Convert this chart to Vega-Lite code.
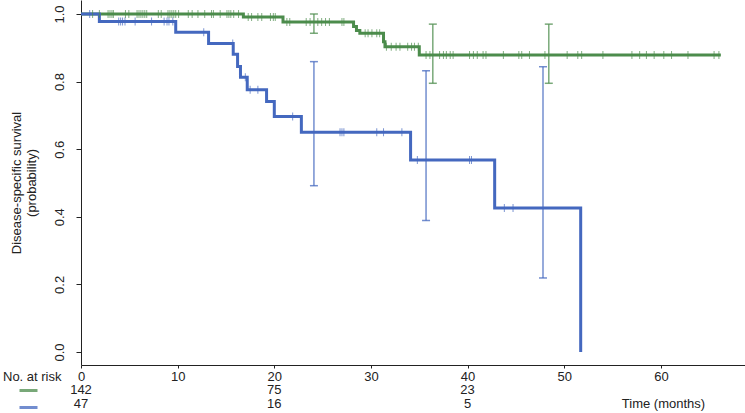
{
  "$schema": "https://vega.github.io/schema/vega-lite/v6.json",
  "width": 664,
  "height": 365,
  "autosize": {"type": "none"},
  "padding": {"left": 81, "top": 0, "right": 0, "bottom": 48},
  "background": "white",
  "config": {
    "font": "Liberation Sans",
    "view": {"stroke": null},
    "axis": {"grid": false, "labelFontSize": 13, "labelColor": "#222222", "titleFontSize": 13, "titleFontWeight": "normal", "titleColor": "#222222", "domainColor": "#222222", "tickColor": "#222222"}
  },
  "datasets": {
    "curve": [
      {"g": "Group A", "t": 0, "s": 1},
      {"g": "Group A", "t": 16.8, "s": 0.991},
      {"g": "Group A", "t": 20.9, "s": 0.976},
      {"g": "Group A", "t": 28.2, "s": 0.963},
      {"g": "Group A", "t": 28.5, "s": 0.951},
      {"g": "Group A", "t": 28.85, "s": 0.943},
      {"g": "Group A", "t": 31.3, "s": 0.918},
      {"g": "Group A", "t": 31.45, "s": 0.903},
      {"g": "Group A", "t": 35.0, "s": 0.879},
      {"g": "Group A", "t": 66.2, "s": 0.879},
      {"g": "Group B", "t": 0, "s": 1},
      {"g": "Group B", "t": 1.9, "s": 0.978},
      {"g": "Group B", "t": 9.8, "s": 0.946},
      {"g": "Group B", "t": 13.2, "s": 0.913},
      {"g": "Group B", "t": 15.75, "s": 0.881},
      {"g": "Group B", "t": 16.2, "s": 0.845},
      {"g": "Group B", "t": 16.5, "s": 0.813},
      {"g": "Group B", "t": 17.2, "s": 0.776},
      {"g": "Group B", "t": 19.2, "s": 0.741},
      {"g": "Group B", "t": 20.0, "s": 0.697},
      {"g": "Group B", "t": 22.8, "s": 0.65},
      {"g": "Group B", "t": 34.1, "s": 0.568},
      {"g": "Group B", "t": 42.8, "s": 0.426},
      {"g": "Group B", "t": 51.7, "s": 0}
    ],
    "censor": [
      {"g": "Group A", "t": 1.2, "s": 1}, {"g": "Group A", "t": 1.9, "s": 1}, {"g": "Group A", "t": 2.8, "s": 1}, {"g": "Group A", "t": 3.0, "s": 1},
      {"g": "Group A", "t": 3.2, "s": 1}, {"g": "Group A", "t": 3.35, "s": 1}, {"g": "Group A", "t": 4.6, "s": 1}, {"g": "Group A", "t": 4.95, "s": 1},
      {"g": "Group A", "t": 5.8, "s": 1}, {"g": "Group A", "t": 6.0, "s": 1}, {"g": "Group A", "t": 6.2, "s": 1}, {"g": "Group A", "t": 6.4, "s": 1},
      {"g": "Group A", "t": 6.6, "s": 1}, {"g": "Group A", "t": 6.8, "s": 1}, {"g": "Group A", "t": 8.0, "s": 1}, {"g": "Group A", "t": 8.3, "s": 1},
      {"g": "Group A", "t": 9.0, "s": 1}, {"g": "Group A", "t": 9.2, "s": 1}, {"g": "Group A", "t": 9.4, "s": 1}, {"g": "Group A", "t": 9.6, "s": 1},
      {"g": "Group A", "t": 9.8, "s": 1}, {"g": "Group A", "t": 10.1, "s": 1}, {"g": "Group A", "t": 11.1, "s": 1}, {"g": "Group A", "t": 11.5, "s": 1},
      {"g": "Group A", "t": 12.1, "s": 1}, {"g": "Group A", "t": 12.8, "s": 1}, {"g": "Group A", "t": 13.5, "s": 1}, {"g": "Group A", "t": 13.7, "s": 1},
      {"g": "Group A", "t": 14.4, "s": 1}, {"g": "Group A", "t": 15.1, "s": 1}, {"g": "Group A", "t": 15.3, "s": 1}, {"g": "Group A", "t": 15.5, "s": 1},
      {"g": "Group A", "t": 15.8, "s": 1}, {"g": "Group A", "t": 16.3, "s": 1},
      {"g": "Group A", "t": 17.3, "s": 0.991}, {"g": "Group A", "t": 17.65, "s": 0.991}, {"g": "Group A", "t": 18.3, "s": 0.991}, {"g": "Group A", "t": 18.7, "s": 0.991},
      {"g": "Group A", "t": 19.6, "s": 0.991}, {"g": "Group A", "t": 19.9, "s": 0.991}, {"g": "Group A", "t": 20.1, "s": 0.991},
      {"g": "Group A", "t": 21.3, "s": 0.976}, {"g": "Group A", "t": 21.6, "s": 0.976}, {"g": "Group A", "t": 23.3, "s": 0.976}, {"g": "Group A", "t": 23.7, "s": 0.976},
      {"g": "Group A", "t": 24.5, "s": 0.976}, {"g": "Group A", "t": 24.9, "s": 0.976}, {"g": "Group A", "t": 25.3, "s": 0.976}, {"g": "Group A", "t": 25.7, "s": 0.976},
      {"g": "Group A", "t": 27.0, "s": 0.976}, {"g": "Group A", "t": 27.2, "s": 0.976},
      {"g": "Group A", "t": 29.4, "s": 0.943}, {"g": "Group A", "t": 29.7, "s": 0.943}, {"g": "Group A", "t": 30.1, "s": 0.943}, {"g": "Group A", "t": 30.6, "s": 0.943}, {"g": "Group A", "t": 30.9, "s": 0.943},
      {"g": "Group A", "t": 31.6, "s": 0.903}, {"g": "Group A", "t": 32.1, "s": 0.903}, {"g": "Group A", "t": 32.6, "s": 0.903}, {"g": "Group A", "t": 33.0, "s": 0.903},
      {"g": "Group A", "t": 33.8, "s": 0.903}, {"g": "Group A", "t": 34.2, "s": 0.903}, {"g": "Group A", "t": 34.5, "s": 0.903}, {"g": "Group A", "t": 34.9, "s": 0.903},
      {"g": "Group A", "t": 35.7, "s": 0.879}, {"g": "Group A", "t": 36.1, "s": 0.879}, {"g": "Group A", "t": 37.1, "s": 0.879}, {"g": "Group A", "t": 37.5, "s": 0.879},
      {"g": "Group A", "t": 37.8, "s": 0.879}, {"g": "Group A", "t": 38.2, "s": 0.879}, {"g": "Group A", "t": 38.5, "s": 0.879}, {"g": "Group A", "t": 40.2, "s": 0.879},
      {"g": "Group A", "t": 40.6, "s": 0.879}, {"g": "Group A", "t": 41.0, "s": 0.879}, {"g": "Group A", "t": 41.6, "s": 0.879}, {"g": "Group A", "t": 41.9, "s": 0.879},
      {"g": "Group A", "t": 43.7, "s": 0.879}, {"g": "Group A", "t": 45.3, "s": 0.879}, {"g": "Group A", "t": 45.6, "s": 0.879}, {"g": "Group A", "t": 46.4, "s": 0.879},
      {"g": "Group A", "t": 48.0, "s": 0.879}, {"g": "Group A", "t": 50.3, "s": 0.879}, {"g": "Group A", "t": 51.4, "s": 0.879}, {"g": "Group A", "t": 51.8, "s": 0.879},
      {"g": "Group A", "t": 54.0, "s": 0.879}, {"g": "Group A", "t": 57.0, "s": 0.879}, {"g": "Group A", "t": 57.8, "s": 0.879}, {"g": "Group A", "t": 58.5, "s": 0.879},
      {"g": "Group A", "t": 59.3, "s": 0.879}, {"g": "Group A", "t": 60.3, "s": 0.879}, {"g": "Group A", "t": 61.1, "s": 0.879}, {"g": "Group A", "t": 62.8, "s": 0.879},
      {"g": "Group A", "t": 65.5, "s": 0.879}, {"g": "Group A", "t": 66.0, "s": 0.879},
      {"g": "Group B", "t": 0.9, "s": 1},
      {"g": "Group B", "t": 3.9, "s": 0.978}, {"g": "Group B", "t": 4.1, "s": 0.978}, {"g": "Group B", "t": 4.3, "s": 0.978}, {"g": "Group B", "t": 4.55, "s": 0.978},
      {"g": "Group B", "t": 5.6, "s": 0.978}, {"g": "Group B", "t": 7.3, "s": 0.978}, {"g": "Group B", "t": 8.6, "s": 0.978}, {"g": "Group B", "t": 8.9, "s": 0.978},
      {"g": "Group B", "t": 9.1, "s": 0.978}, {"g": "Group B", "t": 9.5, "s": 0.978},
      {"g": "Group B", "t": 12.7, "s": 0.946},
      {"g": "Group B", "t": 15.7, "s": 0.913},
      {"g": "Group B", "t": 17.0, "s": 0.813},
      {"g": "Group B", "t": 17.5, "s": 0.776}, {"g": "Group B", "t": 18.3, "s": 0.776},
      {"g": "Group B", "t": 21.9, "s": 0.697},
      {"g": "Group B", "t": 26.8, "s": 0.65}, {"g": "Group B", "t": 27.0, "s": 0.65}, {"g": "Group B", "t": 27.2, "s": 0.65},
      {"g": "Group B", "t": 30.6, "s": 0.65}, {"g": "Group B", "t": 31.3, "s": 0.65}, {"g": "Group B", "t": 33.2, "s": 0.65},
      {"g": "Group B", "t": 34.8, "s": 0.568}, {"g": "Group B", "t": 40.2, "s": 0.568}, {"g": "Group B", "t": 40.4, "s": 0.568},
      {"g": "Group B", "t": 43.8, "s": 0.426}, {"g": "Group B", "t": 44.7, "s": 0.426}
    ],
    "bars": [
      {"g": "Group A", "t": 24.1, "lo": 0.943, "hi": 1.0},
      {"g": "Group A", "t": 36.4, "lo": 0.795, "hi": 0.97},
      {"g": "Group A", "t": 48.4, "lo": 0.795, "hi": 0.97},
      {"g": "Group B", "t": 24.1, "lo": 0.492, "hi": 0.859},
      {"g": "Group B", "t": 35.7, "lo": 0.389, "hi": 0.832},
      {"g": "Group B", "t": 47.8, "lo": 0.219, "hi": 0.844}
    ],
    "risk": [
      {"g": "Group A", "t": 0, "n": 142},
      {"g": "Group A", "t": 20, "n": 75},
      {"g": "Group A", "t": 40, "n": 23},
      {"g": "Group B", "t": 0, "n": 47},
      {"g": "Group B", "t": 20, "n": 16},
      {"g": "Group B", "t": 40, "n": 5}
    ]
  },
  "resolve": {"scale": {"y": "independent"}},
  "layer": [
    {
      "layer": [
        {
          "data": {"name": "bars"},
          "mark": {"type": "rule", "strokeWidth": 1.5, "opacity": 0.75},
          "encoding": {
            "x": {"field": "t", "type": "quantitative"},
            "y": {"field": "lo", "type": "quantitative"},
            "y2": {"field": "hi"},
            "color": {"field": "g", "type": "nominal"}
          }
        },
        {
          "data": {"name": "bars"},
          "transform": [{"fold": ["lo", "hi"], "as": ["end", "v"]}],
          "mark": {"type": "tick", "orient": "horizontal", "size": 8, "thickness": 1.5, "opacity": 0.75},
          "encoding": {
            "x": {"field": "t", "type": "quantitative"},
            "y": {"field": "v", "type": "quantitative"},
            "color": {"field": "g", "type": "nominal"}
          }
        },
        {
          "data": {"name": "curve"},
          "mark": {"type": "line", "interpolate": "step-after", "strokeWidth": 3},
          "encoding": {
            "x": {"field": "t", "type": "quantitative", "scale": {"domain": [0, 68.7], "nice": false, "zero": false},
              "axis": {"values": [0, 10, 20, 30, 40, 50, 60], "tickSize": 3, "labelPadding": 2, "labelFlush": false, "title": "Time (months)", "titleX": 582, "titleY": 38, "titleAlign": "center", "titleBaseline": "middle"}},
            "y": {"field": "s", "type": "quantitative", "scale": {"domain": [-0.0385, 1.0414], "nice": false, "zero": false},
              "axis": {"values": [0, 0.2, 0.4, 0.6, 0.8, 1.0], "format": ".1f", "tickSize": 5, "labelAngle": -90, "labelAlign": "center", "labelBaseline": "bottom", "labelPadding": 10, "title": ["Disease-specific survival", "(probability)"], "titlePadding": 15, "titleLineHeight": 15}},
            "color": {"field": "g", "type": "nominal",
              "scale": {"domain": ["Group A", "Group B"], "range": ["#4c8c4c", "#4468bf"]},
              "legend": {"orient": "none", "legendX": -78, "legendY": 371, "title": "No. at risk", "titleFontSize": 13, "titleFontWeight": "normal", "titleColor": "#222222", "titlePadding": -4, "symbolType": "stroke", "symbolSize": 324, "symbolStrokeWidth": 3, "symbolOpacity": 1, "symbolOffset": 15, "rowPadding": -6, "labelExpr": "''", "padding": 0, "direction": "vertical"}},
            "detail": {"field": "g"}
          }
        },
        {
          "data": {"name": "censor"},
          "mark": {"type": "tick", "orient": "vertical", "size": 8, "thickness": 1},
          "encoding": {
            "x": {"field": "t", "type": "quantitative"},
            "y": {"field": "s", "type": "quantitative"},
            "color": {"field": "g", "type": "nominal"}
          }
        }
      ]
    },
    {
      "data": {"name": "risk"},
      "mark": {"type": "text", "fontSize": 13, "color": "#222222", "baseline": "middle", "align": "center"},
      "encoding": {
        "x": {"field": "t", "type": "quantitative"},
        "y": {"field": "g", "type": "nominal", "scale": {"type": "point", "domain": ["Group A", "Group B"], "range": [390, 404], "padding": 0}, "axis": null},
        "text": {"field": "n", "type": "quantitative"}
      }
    }
  ]
}
